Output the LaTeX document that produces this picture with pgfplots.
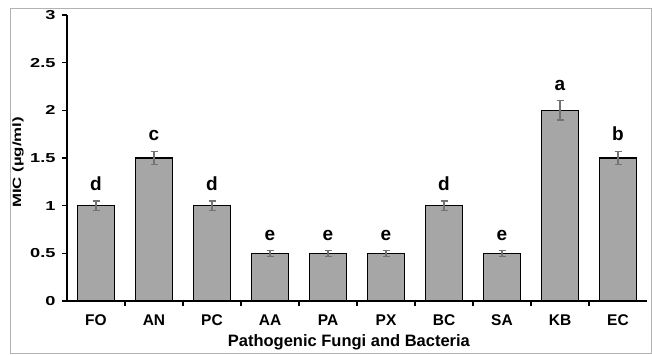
\documentclass[border=0pt]{standalone}
\usepackage{fontspec}
\setmainfont{Liberation Sans}
\newfontfamily\widefont[FakeStretch=1.4]{Liberation Sans}
\usepackage{pgfplots}
\pgfplotsset{compat=1.18}
\usepackage{pgfplotstable}
\pgfplotstableread{
x y err lab
0 1.0 0.05 d
1 1.5 0.07 c
2 1.0 0.05 d
3 0.5 0.03 e
4 0.5 0.03 e
5 0.5 0.03 e
6 1.0 0.05 d
7 0.5 0.03 e
8 2.0 0.10 a
9 1.5 0.07 b
}\data
\begin{document}
\begin{tikzpicture}
\useasboundingbox (0,0) rectangle (652pt,354pt);
\draw[gray!60, line width=0.8pt] (10pt,1pt) rectangle (651.5pt,346pt);
\begin{axis}[
  at={(67pt,53pt)}, anchor=south west,
  scale only axis, width=580pt, height=286pt,
  xmin=-0.5, xmax=9.5, ymin=0, ymax=3,
  axis x line*=bottom, axis y line*=left,
  axis line style={-, line width=1.4pt, black},
  ybar, bar width=37pt, bar shift=0pt,
  xtick={0,...,9},
  xticklabels={FO,AN,PC,AA,PA,PX,BC,SA,KB,EC},
  major x tick style={draw=none},
  minor xtick={0.5,1.5,...,8.5},
  minor x tick style={line width=1.4pt, black},
  minor tick length=5pt,
  ytick={0,0.5,...,3},
  yticklabels={0,0.5,1,1.5,2,2.5,3},
  major y tick style={line width=1.4pt, black},
  major tick length=5pt,
  tick align=outside,
  xticklabel style={font=\fontsize{15.5}{17}\selectfont\bfseries, yshift=-5pt},
  yticklabel style={font=\fontsize{13}{15}\selectfont\widefont\bfseries, xshift=-3pt},
  xlabel={Pathogenic Fungi and Bacteria},
  xlabel style={font=\fontsize{16.5}{18}\selectfont\bfseries, at={(axis description cs:0.486,0)}, anchor=center, yshift=-41pt},
  ylabel={MIC (µg/ml)},
  ylabel style={font=\fontsize{12}{14}\selectfont\widefont\bfseries, at={([xshift=-49pt]axis description cs:0,0.485)}, anchor=center},
  clip=false,
]
\addplot[fill=black!35, draw=black, line width=1.4pt,
  error bars/.cd, y dir=both, y explicit,
  error bar style={line width=1.3pt, black!55},
  error mark options={rotate=90, mark size=3.5pt, line width=1.3pt, black!55}]
  table[x=x, y=y, y error=err] {\data};
\addplot[draw=none, fill=none,
  nodes near coords, point meta=explicit symbolic,
  nodes near coords style={anchor=south, inner sep=0pt, yshift=10pt, font=\fontsize{19}{21}\selectfont\bfseries, black}]
  table[x=x, y expr=\thisrow{y}+\thisrow{err}, meta=lab] {\data};
\end{axis}
\end{tikzpicture}
\end{document}
